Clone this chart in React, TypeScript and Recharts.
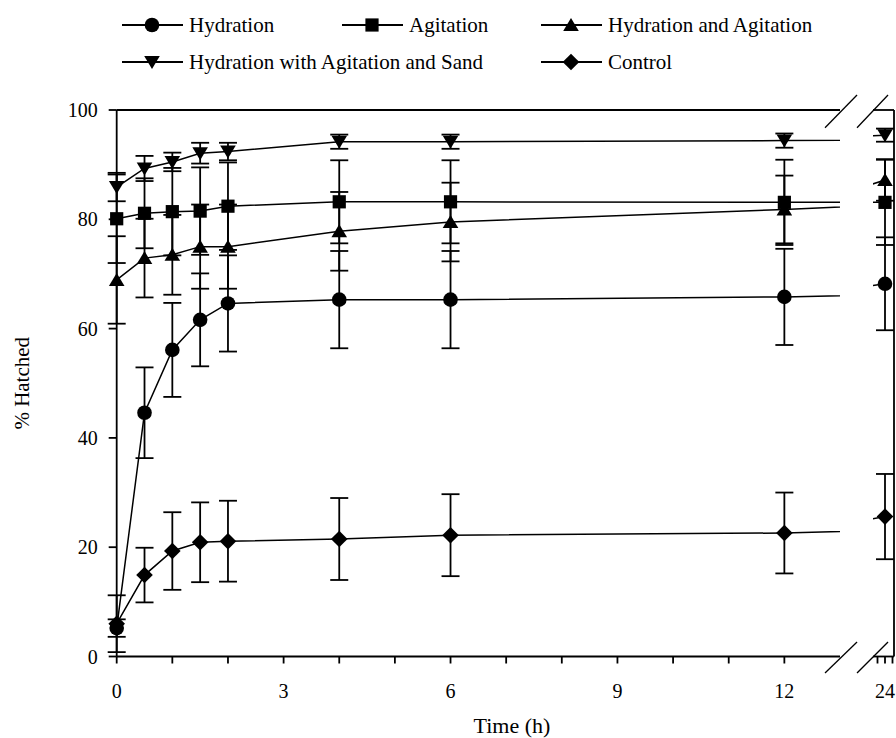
import { ComposedChart, ErrorBar, Legend, Line, ReferenceLine, XAxis, YAxis } from "recharts";

const FONT = '"Liberation Serif", "Times New Roman", serif';

// time points (h) and mean % hatched ± error for each treatment
const hours = [0, 0.5, 1, 1.5, 2, 4, 6, 12, 24];
const hydration = [5.2, 44.6, 56.1, 61.6, 64.6, 65.3, 65.3, 65.8, 68.2];
const hydrationErr = [1.6, 8.3, 8.6, 8.5, 8.8, 8.9, 8.9, 8.8, 8.5];
const agitation = [80.1, 81.1, 81.4, 81.5, 82.4, 83.2, 83.2, 83.1, 83.1];
const agitationErr = [8.1, 6.4, 8.0, 8.0, 8.0, 7.6, 7.6, 7.8, 7.8];
const hydAgit = [68.9, 72.9, 73.5, 75.0, 75.0, 77.8, 79.5, 81.8, 87.2];
const hydAgitErr = [8.0, 7.2, 7.3, 7.7, 7.7, 7.2, 7.2, 6.2, 3.8];
const hydAgitSand = [85.9, 89.3, 90.5, 92.1, 92.4, 94.2, 94.2, 94.4, 95.4];
const hydAgitSandErr = [2.6, 2.3, 1.7, 1.9, 1.6, 1.3, 1.3, 1.3, 1.2];
const control = [6.0, 14.9, 19.3, 20.9, 21.1, 21.5, 22.2, 22.6, 25.6];
const controlErr = [5.2, 5.0, 7.1, 7.3, 7.4, 7.5, 7.5, 7.4, 7.8];

// axis ticks
const hourTicks = [0, 1, 2, 3, 4, 5, 6, 7, 8, 9, 10, 11, 12];
const hourLabels = [0, 3, 6, 9, 12];
const lateTicks = [23, 24, 25];
const lateLabels = [24];
const percentTicks = [0, 20, 40, 60, 80, 100];

type MarkerKind = "circle" | "square" | "up" | "down" | "diamond";

const SERIES: { key: string; name: string; marker: MarkerKind; values: number[]; errors: number[] }[] = [
  { key: "hyd", name: "Hydration", marker: "circle", values: hydration, errors: hydrationErr },
  { key: "agi", name: "Agitation", marker: "square", values: agitation, errors: agitationErr },
  { key: "hya", name: "Hydration and Agitation", marker: "up", values: hydAgit, errors: hydAgitErr },
  { key: "sand", name: "Hydration with Agitation and Sand", marker: "down", values: hydAgitSand, errors: hydAgitSandErr },
  { key: "ctl", name: "Control", marker: "diamond", values: control, errors: controlErr },
];

const table = hours.map((t, i) => {
  const row: Record<string, number> = { t };
  SERIES.forEach((s) => {
    row[s.key] = s.values[i];
    row[`${s.key}Err`] = s.errors[i];
  });
  return row;
});

// layout
const MAIN_DOMAIN: [number, number] = [-0.3, 13];
const LATE_DOMAIN: [number, number] = [22.4, 25.2];
const MAIN_LEFT = 100;
const MAIN_RIGHT = 840;
const LATE_CLIP = 862; // the 24 h panel is cut out of its own chart from here
const AXIS_SHIFT = ((0 - MAIN_DOMAIN[0]) / (MAIN_DOMAIN[1] - MAIN_DOMAIN[0])) * (MAIN_RIGHT - MAIN_LEFT);
const LEGEND_COLS = [122, 342, 541];
const LEGEND_ROWS = [25, 62];
const LEGEND_SLOTS = [
  [0, 0],
  [1, 0],
  [2, 0],
  [0, 1],
  [2, 1],
];

function Marker({ cx, cy, kind }: { cx: number; cy: number; kind: MarkerKind }) {
  if (cx == null || cy == null) return null;
  switch (kind) {
    case "circle":
      return <circle cx={cx} cy={cy} r={7.3} fill="#000" />;
    case "square":
      return <rect x={cx - 6.6} y={cy - 6.6} width={13.2} height={13.2} fill="#000" />;
    case "up":
      return <polygon points={`${cx},${cy - 7} ${cx + 7.8},${cy + 6} ${cx - 7.8},${cy + 6}`} fill="#000" />;
    case "down":
      return <polygon points={`${cx},${cy + 7} ${cx + 7.8},${cy - 6} ${cx - 7.8},${cy - 6}`} fill="#000" />;
    default:
      return <polygon points={`${cx},${cy - 8.3} ${cx + 8.3},${cy} ${cx},${cy + 8.3} ${cx - 8.3},${cy}`} fill="#000" />;
  }
}

function renderSeries() {
  return SERIES.map((s) => (
    <Line
      key={s.key}
      dataKey={s.key}
      name={s.name}
      type="linear"
      stroke="#000"
      strokeWidth={1.5}
      isAnimationActive={false}
      activeDot={false}
      dot={(p: any) => <Marker key={`${s.key}-${p.index}`} cx={p.cx} cy={p.cy} kind={s.marker} />}
    >
      <ErrorBar dataKey={`${s.key}Err`} width={9} stroke="#000" strokeWidth={1.8} direction="y" isAnimationActive={false} />
    </Line>
  ));
}

function LegendBox() {
  return (
    <svg width={896} height={90} style={{ display: "block" }}>
      {SERIES.map((s, i) => {
        const [c, r] = LEGEND_SLOTS[i];
        const x = LEGEND_COLS[c];
        const y = LEGEND_ROWS[r];
        return (
          <g key={s.key}>
            <line x1={x} x2={x + 61} y1={y} y2={y} stroke="#000" strokeWidth={2} />
            <Marker cx={x + 30} cy={y} kind={s.marker} />
            <text x={x + 67} y={y} dy="0.33em" fontSize={21} fontFamily={FONT} fill="#000">
              {s.name}
            </text>
          </g>
        );
      })}
    </svg>
  );
}

function YTick({ x, y, payload }: any) {
  const ax = x + AXIS_SHIFT;
  return (
    <g>
      <line x1={ax - 8} x2={ax} y1={y} y2={y} stroke="#000" strokeWidth={1.8} />
      <text x={ax - 19} y={y} dy="0.35em" textAnchor="end" fontSize={20} fontFamily={FONT} fill="#000">
        {payload.value}
      </text>
    </g>
  );
}

const renderYTitle = ({ viewBox }: any) => {
  const cy = viewBox.y + viewBox.height / 2;
  return (
    <text x={22} y={cy} transform={`rotate(-90 22 ${cy})`} textAnchor="middle" dy="0.35em" fontSize={21} fontFamily={FONT} fill="#000">
      % Hatched
    </text>
  );
};

const renderXTitle = () => (
  <text x={512} y={733} textAnchor="middle" fontSize={22} fontFamily={FONT} fill="#000">
    Time (h)
  </text>
);

const tickStyle = { fontSize: 20, fill: "#000", fontFamily: FONT };
const axisLine = { stroke: "#000", strokeWidth: 1.8 };

// break marks, in the main panel's units
const BREAKS: [number, number, number, number][] = [
  [12.731, -3.02, 13.306, 2.65],
  [13.306, -3.02, 13.863, 2.65],
  [12.731, 96.76, 13.306, 102.74],
  [13.306, 96.76, 13.863, 102.74],
];

export default function App() {
  return (
    <div style={{ position: "absolute", top: 0, left: 0, width: 896, height: 738, background: "#fff", overflow: "hidden" }}>
      <div style={{ position: "absolute", top: 0, left: 0 }}>
        <ComposedChart width={896} height={738} data={table} margin={{ top: 110, right: 56, bottom: 31.5, left: 0 }}>
          <XAxis
            type="number"
            dataKey="t"
            domain={MAIN_DOMAIN}
            allowDataOverflow
            ticks={hourTicks}
            interval={0}
            tickFormatter={(v: number) => (hourLabels.includes(v) ? String(v) : "")}
            axisLine={false}
            tickLine={axisLine}
            tickSize={7}
            tickMargin={20}
            tick={tickStyle}
            height={50}
            label={renderXTitle}
          />
          <YAxis
            type="number"
            domain={[0, 100]}
            allowDataOverflow
            ticks={percentTicks}
            interval={0}
            axisLine={false}
            tickLine={false}
            tickSize={0}
            tickMargin={0}
            tick={<YTick />}
            width={100}
            label={renderYTitle}
          />
          <ReferenceLine x={0} stroke="#000" strokeWidth={1.8} />
          <ReferenceLine segment={[{ x: 0, y: 0 }, { x: MAIN_DOMAIN[1], y: 0 }]} stroke="#000" strokeWidth={1.8} />
          <ReferenceLine segment={[{ x: 0, y: 100 }, { x: MAIN_DOMAIN[1], y: 100 }]} stroke="#000" strokeWidth={1.8} />
          {BREAKS.map(([x1, y1, x2, y2], i) => (
            <ReferenceLine
              key={i}
              segment={[{ x: x1, y: y1 }, { x: x2, y: y2 }]}
              stroke="#000"
              strokeWidth={1.3}
              ifOverflow="visible"
            />
          ))}
          {renderSeries()}
          <Legend
            layout="vertical"
            align="center"
            verticalAlign="middle"
            wrapperStyle={{ top: 0, left: 0, width: 896, height: 90 }}
            content={() => <LegendBox />}
          />
        </ComposedChart>
      </div>
      <div style={{ position: "absolute", top: 0, left: LATE_CLIP, width: 896 - LATE_CLIP, height: 738, overflow: "hidden" }}>
        <div style={{ position: "absolute", top: 0, left: -LATE_CLIP }}>
          <ComposedChart width={896} height={738} data={table} margin={{ top: 110, right: 2, bottom: 31.5, left: 873 }}>
            <XAxis
              type="number"
              dataKey="t"
              domain={LATE_DOMAIN}
              allowDataOverflow
              ticks={lateTicks}
              interval={0}
              tickFormatter={(v: number) => (lateLabels.includes(v) ? String(v) : "")}
              axisLine={axisLine}
              tickLine={axisLine}
              tickSize={7}
              tickMargin={20}
              tick={tickStyle}
              height={50}
            />
            <YAxis type="number" domain={[0, 100]} allowDataOverflow hide />
            <ReferenceLine y={100} stroke="#000" strokeWidth={1.8} />
            <ReferenceLine x={LATE_DOMAIN[1]} stroke="#000" strokeWidth={1.8} />
            {renderSeries()}
          </ComposedChart>
        </div>
      </div>
    </div>
  );
}
